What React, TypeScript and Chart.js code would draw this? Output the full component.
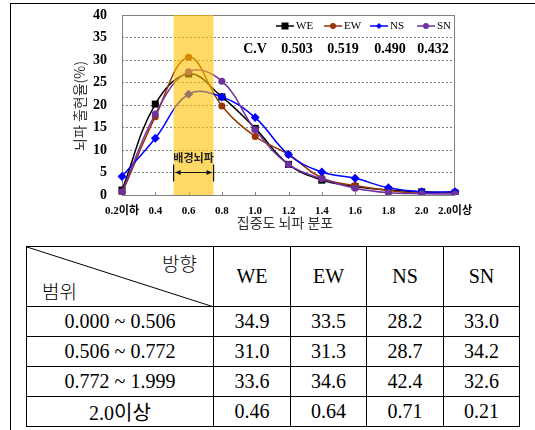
import React, { useEffect, useRef } from 'react';
import { Chart, registerables } from 'chart.js';

Chart.register(...registerables);

// Concentration-band categories on the x axis
const CATEGORIES = ['0.2이하', '0.4', '0.6', '0.8', '1.0', '1.2', '1.4', '1.6', '1.8', '2.0', '2.0이상'];
const CATEGORY_START = 0.2;
const CATEGORY_STEP = 0.2;

// Occurrence rate (%) per direction
const WE = [1.1, 20.2, 26.9, 21.8, 14.8, 6.8, 3.3, 1.9, 1.1, 0.7, 0.46];
const EW = [0.4, 17.4, 30.6, 19.8, 13.0, 9.0, 3.8, 2.1, 1.0, 0.4, 0.64];
const NS = [4.1, 12.6, 22.4, 21.8, 17.2, 9.0, 5.1, 3.7, 1.6, 0.7, 0.71];
const SN = [0.7, 18.0, 27.4, 25.3, 14.5, 6.8, 3.6, 1.5, 0.5, 0.3, 0.21];

const SERIES_NAMES = ['WE', 'EW', 'NS', 'SN'];
const CV_LABEL = 'C.V';
const CV_VALUES = ['0.503', '0.519', '0.490', '0.432'];

const Y_MIN = 0;
const Y_MAX = 40;
const Y_STEP = 5;

// Background-wave band on the concentration axis
const BAND_RANGE = [0.51, 0.75];
const BAND_LABEL = '배경뇌파';

const X_TITLE = '집중도 뇌파 분포';
const Y_TITLE = '뇌파 출현율(%)';

// Summary table
const TABLE_CORNER_TOP = '방향';
const TABLE_CORNER_BOTTOM = '범위';
const TABLE_HEAD = ['WE', 'EW', 'NS', 'SN'];
const TABLE_RANGES = ['0.000 ~ 0.506', '0.506 ~ 0.772', '0.772 ~ 1.999', '2.0이상'];
const TABLE_WE = ['34.9', '31.0', '33.6', '0.46'];
const TABLE_EW = ['33.5', '31.3', '34.6', '0.64'];
const TABLE_NS = ['28.2', '28.7', '42.4', '0.71'];
const TABLE_SN = ['33.0', '34.2', '32.6', '0.21'];

const SERIF = '"Liberation Serif", "Times New Roman", "Noto Sans CJK KR", serif';
const SANS_KR = '"Noto Sans CJK KR", "Noto Sans", sans-serif';

const COLORS = ['#000000', '#993300', '#0000FF', '#7030A0'];
const POINT_STYLES = ['rect', 'circle', 'rectRot', 'circle'];
const POINT_RADII = [5, 3.5, 4.5, 3.5];

function drawMarker(ctx: CanvasRenderingContext2D, style: string, x: number, y: number, r: number) {
  ctx.beginPath();
  if (style === 'rect') {
    ctx.rect(x - r, y - r, 2 * r, 2 * r);
  } else if (style === 'rectRot') {
    ctx.moveTo(x, y - r);
    ctx.lineTo(x + r, y);
    ctx.lineTo(x, y + r);
    ctx.lineTo(x - r, y);
    ctx.closePath();
  } else {
    ctx.arc(x, y, r, 0, Math.PI * 2);
  }
  ctx.fill();
}

const decorPlugin = {
  id: 'decor',
  beforeDatasetsDraw(chart: any) {
    const { ctx, chartArea, scales } = chart;
    ctx.save();
    // plot frame
    ctx.strokeStyle = '#808080';
    ctx.lineWidth = 1;
    ctx.strokeRect(chartArea.left + 0.5, chartArea.top + 0.5, chartArea.right - chartArea.left - 1, chartArea.bottom - chartArea.top);
    // small inner tick marks on the x axis
    CATEGORIES.forEach((_, i) => {
      const px = Math.round(scales.x.getPixelForValue(i)) + 0.5;
      ctx.beginPath();
      ctx.moveTo(px, chartArea.bottom);
      ctx.lineTo(px, chartArea.bottom - 3);
      ctx.stroke();
    });
    ctx.restore();
  },
  afterDatasetsDraw(chart: any) {
    const { ctx, chartArea, scales } = chart;
    const toPx = (v: number) => scales.x.getPixelForValue((v - CATEGORY_START) / CATEGORY_STEP);
    const x0 = toPx(BAND_RANGE[0]);
    const x1 = toPx(BAND_RANGE[1]);
    ctx.save();
    // translucent band laid over the curves
    ctx.fillStyle = 'rgba(255, 192, 0, 0.6)';
    ctx.fillRect(x0, chartArea.top, x1 - x0, chartArea.bottom - chartArea.top);

    // double-headed arrow spanning the band
    const ya = scales.y.getPixelForValue(5);
    ctx.strokeStyle = '#111';
    ctx.fillStyle = '#111';
    ctx.lineWidth = 1.2;
    ctx.beginPath();
    ctx.moveTo(x0, ya - 8);
    ctx.lineTo(x0, ya + 9);
    ctx.moveTo(x1, ya - 8);
    ctx.lineTo(x1, ya + 9);
    ctx.moveTo(x0 + 2, ya);
    ctx.lineTo(x1 - 2, ya);
    ctx.stroke();
    ctx.beginPath();
    ctx.moveTo(x0 + 1.5, ya);
    ctx.lineTo(x0 + 7, ya - 2.5);
    ctx.lineTo(x0 + 7, ya + 2.5);
    ctx.closePath();
    ctx.moveTo(x1 - 1.5, ya);
    ctx.lineTo(x1 - 7, ya - 2.5);
    ctx.lineTo(x1 - 7, ya + 2.5);
    ctx.closePath();
    ctx.fill();

    ctx.font = `bold 11px ${SANS_KR}`;
    ctx.textAlign = 'center';
    ctx.textBaseline = 'middle';
    ctx.fillStyle = '#222';
    ctx.fillText(BAND_LABEL, (x0 + x1) / 2, scales.y.getPixelForValue(8.2));
    ctx.restore();
  },
  afterDraw(chart: any) {
    const { ctx, chartArea } = chart;
    ctx.save();

    // legend row
    const legendY = chartArea.top + 11;
    const legendX = [285, 333, 379, 426];
    ctx.font = `11px ${SERIF}`;
    ctx.textBaseline = 'middle';
    ctx.textAlign = 'left';
    SERIES_NAMES.forEach((name, i) => {
      const cx = legendX[i];
      ctx.strokeStyle = COLORS[i];
      ctx.fillStyle = COLORS[i];
      ctx.lineWidth = 1.5;
      ctx.beginPath();
      ctx.moveTo(cx - 9, legendY);
      ctx.lineTo(cx + 9, legendY);
      ctx.stroke();
      drawMarker(ctx, POINT_STYLES[i], cx, legendY, POINT_STYLES[i] === 'rect' ? 3.5 : 3);
      ctx.fillStyle = '#000';
      ctx.fillText(name, cx + 11, legendY + 0.5);
    });

    // coefficient of variation row
    const cvY = chartArea.top + 34;
    ctx.font = `bold 14px ${SERIF}`;
    ctx.textAlign = 'center';
    ctx.fillStyle = '#000';
    ctx.fillText(CV_LABEL, 255, cvY);
    const cvX = [297, 343, 390, 433];
    CV_VALUES.forEach((v, i) => ctx.fillText(v, cvX[i], cvY));

    // axis titles
    ctx.fillStyle = '#333';
    ctx.font = `14px ${SANS_KR}`;
    ctx.textBaseline = 'middle';
    ctx.fillText(X_TITLE, 285, 223);
    ctx.translate(80, 106);
    ctx.rotate(-Math.PI / 2);
    ctx.fillText(Y_TITLE, 0, 0);
    ctx.restore();
  },
};

function OccurrenceChart() {
  const canvasRef = useRef<HTMLCanvasElement | null>(null);

  useEffect(() => {
    if (!canvasRef.current) return;
    const series = [WE, EW, NS, SN];
    const chart = new Chart(canvasRef.current, {
      type: 'line',
      data: {
        labels: CATEGORIES,
        datasets: series.map((data, i) => ({
          label: SERIES_NAMES[i],
          data,
          borderColor: COLORS[i],
          backgroundColor: COLORS[i],
          pointBackgroundColor: COLORS[i],
          pointBorderColor: COLORS[i],
          pointStyle: POINT_STYLES[i] as any,
          pointRadius: POINT_RADII[i],
          pointBorderWidth: 0,
          borderWidth: 1.5,
          tension: 0.4,
          fill: false,
          order: series.length - i,
        })),
      },
      options: {
        responsive: false,
        animation: false,
        devicePixelRatio: 1,
        layout: { padding: { top: 15, right: 80, left: 0, bottom: 0 } },
        plugins: {
          legend: { display: false },
          tooltip: { enabled: false },
        },
        scales: {
          x: {
            type: 'category',
            offset: false,
            grid: { display: false },
            border: { display: false },
            ticks: {
              autoSkip: false,
              maxRotation: 0,
              padding: 2,
              color: '#000',
              font: { family: SERIF, size: 11, weight: 'bold' },
            },
            afterFit: (s: any) => {
              s.height = 45;
            },
          },
          y: {
            min: Y_MIN,
            max: Y_MAX,
            ticks: {
              stepSize: Y_STEP,
              padding: 0,
              color: '#000',
              font: { family: SERIF, size: 14, weight: 'bold' },
            },
            grid: {
              color: '#808080',
              lineWidth: 1,
              drawTicks: true,
              tickLength: 15,
              tickColor: 'rgba(0,0,0,0)',
            },
            border: { display: false, dash: [2, 2] },
            afterFit: (s: any) => {
              s.width = 122;
            },
          },
        },
      },
      plugins: [decorPlugin],
    });
    return () => chart.destroy();
  }, []);

  return (
    <canvas
      ref={canvasRef}
      width={535}
      height={240}
      style={{ position: 'absolute', left: 0, top: 0, width: 535, height: 240 }}
    />
  );
}

const cellBase: React.CSSProperties = {
  border: '1px solid #000',
  textAlign: 'center',
  verticalAlign: 'middle',
  padding: 0,
  fontFamily: SERIF,
  fontSize: 20,
  color: '#000',
};

function SummaryTable() {
  const columns = [TABLE_WE, TABLE_EW, TABLE_NS, TABLE_SN];
  return (
    <div style={{ position: 'absolute', left: 26, top: 246 }}>
      <table
        style={{
          borderCollapse: 'collapse',
          tableLayout: 'fixed',
          width: 493,
        }}
      >
        <colgroup>
          <col style={{ width: 187 }} />
          <col style={{ width: 77 }} />
          <col style={{ width: 76 }} />
          <col style={{ width: 77 }} />
          <col style={{ width: 76 }} />
        </colgroup>
        <tbody>
          <tr style={{ height: 60 }}>
            <td style={{ ...cellBase, position: 'relative' }}>
              <svg
                width={187}
                height={60}
                style={{ position: 'absolute', left: 0, top: 0 }}
              >
                <line x1={0} y1={0} x2={187} y2={60} stroke="#000" strokeWidth={1} />
              </svg>
              <span
                style={{
                  position: 'absolute',
                  right: 16,
                  top: 5,
                  fontFamily: SANS_KR,
                  fontWeight: 300,
                  fontSize: 19,
                  lineHeight: '22px',
                }}
              >
                {TABLE_CORNER_TOP}
              </span>
              <span
                style={{
                  position: 'absolute',
                  left: 15,
                  top: 33,
                  fontFamily: SANS_KR,
                  fontWeight: 300,
                  fontSize: 19,
                  lineHeight: '22px',
                }}
              >
                {TABLE_CORNER_BOTTOM}
              </span>
            </td>
            {TABLE_HEAD.map((h) => (
              <td key={h} style={cellBase}>
                {h}
              </td>
            ))}
          </tr>
          {TABLE_RANGES.map((range, r) => (
            <tr key={range} style={{ height: 30 }}>
              <td style={cellBase}>{range}</td>
              {columns.map((col, c) => (
                <td key={c} style={cellBase}>
                  {col[r]}
                </td>
              ))}
            </tr>
          ))}
        </tbody>
      </table>
    </div>
  );
}

export default function App() {
  return (
    <div>
      <div
        style={{
          position: 'absolute',
          left: 10,
          top: 3,
          width: 525,
          height: 427,
          borderLeft: '1px solid #000',
          borderTop: '1px solid #000',
          boxSizing: 'border-box',
        }}
      />
      <OccurrenceChart />
      <SummaryTable />
    </div>
  );
}
